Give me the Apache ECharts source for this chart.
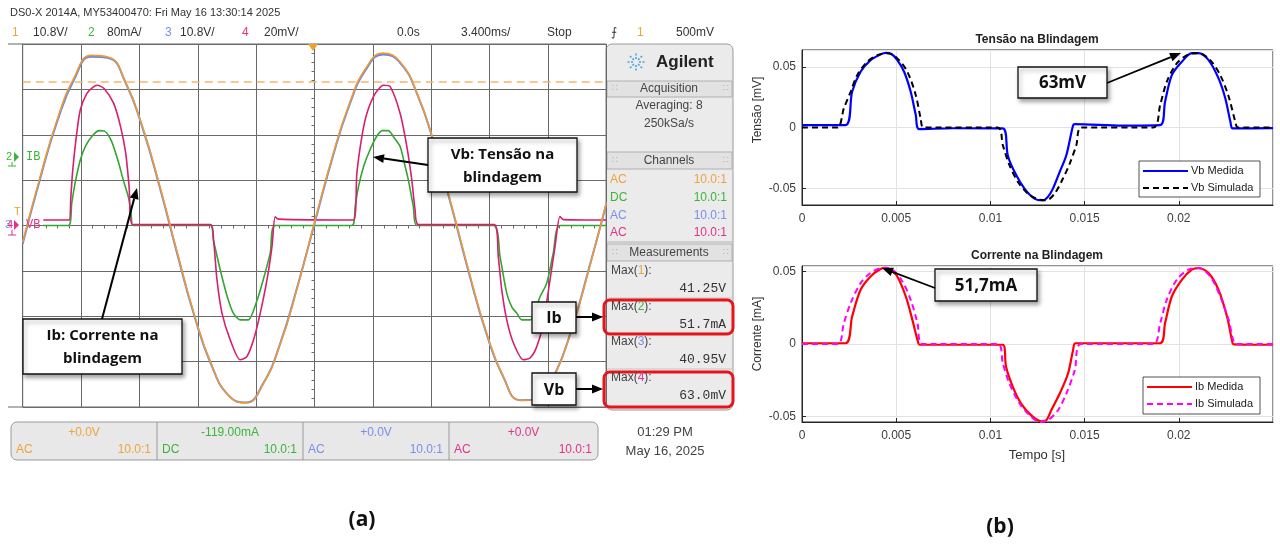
<!DOCTYPE html>
<html><head><meta charset="utf-8">
<script src="https://cdn.jsdelivr.net/npm/echarts@6/dist/echarts.min.js"></script>
<style>html,body{margin:0;padding:0;background:#fff}#c{width:1280px;height:547px}</style>
</head><body><div id="c"></div>
<script>
// ---------- (a) oscilloscope traces, time in ms, amplitude in screen divisions ----------
const scopeTimeMs = [-17,-16,-15,-14,-13,-12,-11,-10,-9,-8,-7,-6,-5,-4,-3,-2,-1,0,1,2,3,4,5,6,7,8,9,10,11,12,13,14,15,16,17];
const ch1Div = [-0.37,1.05,2.32,3.26,3.75,3.71,3.15,2.15,0.85,-0.59,-1.97,-3.07,-3.75,-3.91,-3.50,-2.62,-1.37,0.07,1.46,2.65,3.47,3.80,3.60,2.89,1.78,0.42,-1.02,-2.34,-3.33,-3.85,-3.84,-3.29,-2.28,-0.95,0.50];
const ch3Div = [-0.40,1.01,2.28,3.22,3.72,3.69,3.14,2.13,0.82,-0.62,-1.99,-3.08,-3.75,-3.90,-3.49,-2.60,-1.35,0.04,1.43,2.62,3.44,3.77,3.58,2.88,1.76,0.39,-1.05,-2.36,-3.34,-3.85,-3.83,-3.28,-2.26,-0.93,0.47];
const ibScope = [[-15.8,0],[-14.34,0],[-14.14,0.5],[-13.94,0.95],[-13.64,1.45],[-13.34,1.75],[-12.94,1.98],[-12.54,2.09],[-12.24,2.08],[-11.84,1.87],[-11.44,1.42],[-11.14,1.0],[-10.84,0.62],[-10.69,0.3],[-10.56,0],
  [-6.07,0],[-5.89,-0.32],[-5.49,-0.98],[-5.08,-1.57],[-4.73,-1.93],[-4.33,-2.08],[-3.86,-2.08],[-3.34,-1.64],[-2.99,-1.2],[-2.58,-0.61],[-2.29,0],
  [2.18,0],[2.38,0.45],[2.56,0.85],[2.86,1.3],[3.18,1.62],[3.6,1.95],[3.95,2.09],[4.3,2.09],[4.65,1.93],[4.99,1.74],[5.25,1.35],[5.47,1.0],[5.76,0.41],[5.96,0],
  [10.42,0],[10.81,-0.69],[11.2,-1.49],[11.5,-1.8],[11.78,-1.93],[12.07,-2.08],[12.56,-2.08],[13.14,-1.57],[13.53,-1.27],[13.91,-0.61],[14.3,0],[17,0]];
const vbScope = [[-15.8,0.12],[-14.3,0.12],[-14.2,0.6],[-14.1,1.15],[-13.9,1.88],[-13.65,2.54],[-13.26,2.91],[-12.9,3.05],[-12.65,3.09],[-12.26,3.02],[-11.7,2.69],[-11.3,2.18],[-11.0,1.6],[-10.8,0.85],[-10.6,0.02],
  [-6.05,0.02],[-5.88,-0.32],[-5.68,-1.2],[-5.39,-1.93],[-4.91,-2.52],[-4.33,-2.96],[-3.94,-2.89],[-3.55,-2.52],[-3.16,-1.93],[-2.77,-1.2],[-2.48,-0.47],[-2.29,0.19],[-2.1,0.14],
  [2.27,0.12],[2.47,1.16],[2.76,1.96],[3.05,2.47],[3.54,2.91],[4.02,3.09],[4.41,3.06],[4.99,2.47],[5.38,1.74],[5.67,1.0],[5.86,0.34],[6.05,0.02],
  [10.48,0.02],[10.71,-0.69],[10.91,-1.42],[11.2,-2.08],[11.59,-2.59],[12.17,-2.96],[12.56,-2.92],[12.95,-2.67],[13.33,-2.15],[13.72,-1.2],[14.01,-0.47],[14.3,0.2],[14.5,0.13],[17,0.12]];
const triggerLevelDiv = 3.17;

// ---------- (b) simulation vs measurement, time in s ----------
const vbMedida = [[0,0.0019],[0.0023,0.0019],[0.00266,0.0294],[0.00311,0.0459],[0.00364,0.0555],[0.00417,0.0602],[0.00445,0.0614],[0.00475,0.0605],[0.00506,0.0555],[0.00542,0.0459],[0.00577,0.0294],[0.00604,0.0102],[0.00622,-0.0014],[0.008,-0.0006],[0.01066,-0.0008],[0.01092,-0.0228],[0.01128,-0.0365],[0.01181,-0.0503],[0.01234,-0.0585],[0.01279,-0.0599],[0.01305,-0.0571],[0.01332,-0.0503],[0.01368,-0.0365],[0.01403,-0.0228],[0.01439,0.0019],[0.01448,0.0027],[0.017,0.0015],[0.01901,0.0019],[0.01927,0.0212],[0.01963,0.0431],[0.02016,0.0541],[0.02069,0.0612],[0.02105,0.0612],[0.02158,0.0555],[0.02211,0.0404],[0.02247,0.0239],[0.02274,0.0047],[0.02286,-0.0008],[0.025,-0.0005]];
const vbSimulada = [[0,0],[0.00186,0],[0.00222,0.0157],[0.00258,0.0294],[0.00293,0.0431],[0.00346,0.0541],[0.004,0.0596],[0.00453,0.0612],[0.00506,0.0569],[0.00559,0.0459],[0.00604,0.0266],[0.0063,0.0074],[0.00645,0],[0.01039,0],[0.01066,-0.0146],[0.01101,-0.031],[0.01146,-0.0448],[0.01199,-0.0544],[0.01252,-0.0591],[0.01297,-0.0599],[0.01341,-0.0544],[0.01385,-0.042],[0.01421,-0.0297],[0.01456,-0.0146],[0.01483,0],[0.01865,0],[0.01901,0.0184],[0.01936,0.0376],[0.01989,0.0528],[0.02051,0.0602],[0.02105,0.0612],[0.02167,0.0555],[0.0222,0.0431],[0.02265,0.0253],[0.023,0.0047],[0.02314,0],[0.025,0]];
const ibMedida = [[0,0.0005],[0.00231,0.0005],[0.00266,0.0189],[0.00311,0.0373],[0.00364,0.0465],[0.00417,0.0516],[0.00445,0.0525],[0.00475,0.0505],[0.00506,0.0465],[0.00551,0.0327],[0.00586,0.0166],[0.00613,0.0028],[0.00625,-0.0005],[0.01066,-0.0005],[0.01083,-0.0157],[0.01119,-0.0295],[0.01163,-0.041],[0.01217,-0.0491],[0.0127,-0.0532],[0.01297,-0.0525],[0.01323,-0.0456],[0.01368,-0.0341],[0.01412,-0.0203],[0.01439,-0.0041],[0.01451,0.0005],[0.019,0.0005],[0.01927,0.0143],[0.01963,0.0327],[0.02016,0.0442],[0.02069,0.0512],[0.02105,0.0523],[0.02158,0.0489],[0.02211,0.0373],[0.02256,0.0189],[0.02282,0.0028],[0.02291,-0.0002],[0.025,-0.0005]];
const ibSimulada = [[0,0],[0.0019,0],[0.00222,0.0143],[0.00258,0.0281],[0.00311,0.0419],[0.00364,0.0489],[0.00426,0.0523],[0.0048,0.0512],[0.00533,0.0431],[0.00577,0.0304],[0.00613,0.0143],[0.00639,0],[0.01039,0],[0.01066,-0.0134],[0.01101,-0.0272],[0.01155,-0.041],[0.01208,-0.0491],[0.01261,-0.0537],[0.01305,-0.0525],[0.01359,-0.0456],[0.01403,-0.0341],[0.01448,-0.018],[0.0148,0],[0.01865,0],[0.01901,0.0143],[0.01936,0.0304],[0.01989,0.0442],[0.02051,0.0512],[0.02105,0.0523],[0.02167,0.0465],[0.0222,0.0327],[0.02265,0.0166],[0.02309,0],[0.025,0]];

// ---------- texts ----------
const scopeHeader = 'DS0-X 2014A, MY53400470: Fri May 16 13:30:14 2025';
const measLabels = ['1','2','3','4'];
const measValues = ['41.25V','51.7mA','40.95V','63.0mV'];
const chColors = ['#eea33d','#3cb43c','#7b8ef0','#e0338a'];
const offsets = ['+0.0V','-119.00mA','+0.0V','+0.0V'];
const couplings = ['AC','DC','AC','AC'];

const SANS = '"Liberation Sans", Arial, sans-serif';
const OPEN = '"Open Sans", "Liberation Sans", sans-serif';
const MONO = '"Liberation Mono", "DejaVu Sans Mono", monospace';

function txt(x, y, text, o) {
  o = o || {};
  return {type:'text', x:x, y:y, z:o.z||50, rotation:o.rot||0,
    style:{text:text, fill:o.color||'#333', font:(o.weight||'normal')+' '+(o.size||12)+'px '+(o.family||SANS),
      align:o.align||'left', verticalAlign:'middle', textAlign:o.align||'left', textVerticalAlign:'middle',
      lineHeight:o.lh, rich:o.rich}};
}
function arrow(x1,y1,x2,y2,w){
  const a=Math.atan2(y2-y1,x2-x1), L=11, H=4.5;
  const bx=x2-L*Math.cos(a), by=y2-L*Math.sin(a);
  return [{type:'line', z:60, shape:{x1:x1,y1:y1,x2:bx,y2:by}, style:{stroke:'#000', lineWidth:w||2}},
    {type:'polygon', z:60, shape:{points:[[x2,y2],[bx+H*Math.sin(a),by-H*Math.cos(a)],[bx-H*Math.sin(a),by+H*Math.cos(a)]]}, style:{fill:'#000'}}];
}
function callout(x,y,w,h,text,size,lh){
  return [{type:'rect', z:55, shape:{x:x,y:y,width:w,height:h}, style:{fill:'#fff', stroke:'#111', lineWidth:1.3, shadowBlur:4, shadowOffsetX:2, shadowOffsetY:3, shadowColor:'rgba(0,0,0,0.35)'}},
    txt(x+w/2, y+h/2+1, text, {weight:'bold', size:size, family:OPEN, align:'center', color:'#111', lh:lh, z:56})];
}

const G = [];
// header of scope
G.push(txt(10,13,scopeHeader,{size:11,color:'#333'}));
const hdr = [[12,'1',0],[33,'10.8V/',-1],[88,'2',1],[107,'80mA/',-1],[165,'3',2],[180,'10.8V/',-1],[242,'4',3],[264,'20mV/',-1],
  [397,'0.0s',-1],[461,'3.400ms/',-1],[547,'Stop',-1],[611,'⨍',-1],[637,'1',0],[676,'500mV',-1]];
hdr.forEach(h=>G.push(txt(h[0],33,h[1],{size:12,color:h[2]>=0?chColors[h[2]]:'#333'})));
// scope frame extensions & trigger marker
G.push({type:'line',shape:{x1:8,y1:44,x2:23,y2:44},style:{stroke:'#666',lineWidth:1}});
G.push({type:'line',shape:{x1:8,y1:407,x2:23,y2:407},style:{stroke:'#666',lineWidth:1}});
G.push({type:'polygon',z:40,shape:{points:[[308,44],[318,44],[313,51]]},style:{fill:'#f0a030'}});
// channel markers
G.push(txt(6,157,'2',{color:'#3cb43c',size:11}));
G.push({type:'polygon',shape:{points:[[14,152],[19,157],[14,162]]},style:{fill:'#3cb43c'}});
G.push(txt(26,157,'IB',{color:'#3cb43c',size:12,family:MONO}));
G.push({type:'line',shape:{x1:12,y1:162,x2:12,y2:166},style:{stroke:'#3cb43c'}});
G.push({type:'line',shape:{x1:8,y1:166,x2:16,y2:166},style:{stroke:'#3cb43c'}});
G.push(txt(14,212,'T',{color:'#f0a030',size:11}));
G.push(txt(5,225,'3',{color:'#7b8ef0',size:11}));
G.push(txt(7,225,'4',{color:'#e0338a',size:11}));
G.push({type:'polygon',shape:{points:[[14,220],[19,225],[14,230]]},style:{fill:'#e0338a'}});
G.push(txt(26,225,'VB',{color:'#e0338a',size:12,family:MONO}));
G.push({type:'line',shape:{x1:12,y1:230,x2:12,y2:235},style:{stroke:'#e0338a'}});
G.push({type:'line',shape:{x1:8,y1:235,x2:16,y2:235},style:{stroke:'#e0338a'}});

// right panel
G.push({type:'rect',shape:{x:606,y:44,width:127,height:366,r:6},style:{fill:'#ebebeb',stroke:'#9a9a9a',lineWidth:1}});
// Agilent logo
for(let k=0;k<8;k++){const a=k*Math.PI/4; G.push({type:'line',shape:{x1:636+3*Math.cos(a),y1:62+3*Math.sin(a),x2:636+10*Math.cos(a),y2:62+10*Math.sin(a)},style:{stroke:'#4aa8d8',lineWidth:1.6,lineDash:[2,1.5]}});}
G.push(txt(656,62,'Agilent',{weight:'bold',size:17,color:'#222'}));
function header(y0,y1,label){
  G.push({type:'rect',shape:{x:607,y:y0,width:125,height:y1-y0},style:{fill:'#e2e2e2',stroke:'#b0b0b0',lineWidth:1}});
  G.push(txt(669,(y0+y1)/2,label,{align:'center',color:'#444'}));
  G.push(txt(612,(y0+y1)/2,'∷',{color:'#aaa',size:9}));
  G.push(txt(723,(y0+y1)/2,'∷',{color:'#aaa',size:9}));
}
header(81,97,'Acquisition');
G.push(txt(669,106,'Averaging: 8',{align:'center',color:'#444'}));
G.push(txt(669,124,'250kSa/s',{align:'center',color:'#444'}));
header(152,169,'Channels');
[180,198,216,233].forEach((y,i)=>{
  G.push(txt(610,y,couplings[i]==='DC'?'DC':'AC',{color:chColors[i]}));
  G.push(txt(727,y,'10.0:1',{color:chColors[i],align:'right'}));
});
G.push({type:'line',shape:{x1:607,y1:242,x2:732,y2:242},style:{stroke:'#b0b0b0'}});
header(244,261,'Measurements');
const mY = [271,307,342,378];
measLabels.forEach((m,i)=>{
  G.push(txt(611,mY[i],'Max({c|'+m+'}):',{color:'#444',rich:{c:{fill:chColors[i],font:'12px '+SANS}}}));
  G.push(txt(726,mY[i]+18,measValues[i],{color:'#333',size:13,family:MONO,align:'right'}));
  if(i>0) G.push({type:'line',shape:{x1:607,y1:mY[i]-9,x2:732,y2:mY[i]-9},style:{stroke:'#c4c4c4'}});
});
// red highlight boxes
G.push({type:'rect',z:45,shape:{x:604,y:300,width:129,height:34,r:6},style:{fill:'none',stroke:'#e8141c',lineWidth:3}});
G.push({type:'rect',z:45,shape:{x:604,y:372,width:129,height:35,r:6},style:{fill:'none',stroke:'#e8141c',lineWidth:3}});

// bottom bar
G.push({type:'rect',shape:{x:11,y:422,width:587,height:38,r:6},style:{fill:'#e8e8e8',stroke:'#9a9a9a',lineWidth:1}});
const cellX=[11,157,303,449,598];
for(let i=0;i<4;i++){
  if(i>0) G.push({type:'line',shape:{x1:cellX[i],y1:422,x2:cellX[i],y2:460},style:{stroke:'#9a9a9a'}});
  const cx=(cellX[i]+cellX[i+1])/2;
  G.push(txt(cx,433,offsets[i],{color:chColors[i],align:'center'}));
  G.push(txt(cellX[i]+5,450,couplings[i],{color:chColors[i]}));
  G.push(txt(cellX[i+1]-6,450,'10.0:1',{color:chColors[i],align:'right'}));
}
G.push(txt(665,432,'01:29 PM',{align:'center',color:'#444',size:13}));
G.push(txt(665,451,'May 16, 2025',{align:'center',color:'#444',size:13}));

// callouts (a)
callout(428,138,149,54,'Vb: Tensão na\nblindagem',15,23).forEach(e=>G.push(e));
arrow(428,165,373,157,2).forEach(e=>G.push(e));
callout(23,319,159,55,'Ib: Corrente na\nblindagem',15,23).forEach(e=>G.push(e));
arrow(102,319,137,188,2).forEach(e=>G.push(e));
callout(532,302,44,31,'Ib',16).forEach(e=>G.push(e));
arrow(576,317,603,317,2).forEach(e=>G.push(e));
callout(532,373,44,32,'Vb',16).forEach(e=>G.push(e));
arrow(576,389,603,389,2).forEach(e=>G.push(e));

// (b) decorations
G.push(txt(1037,40,'Tensão na Blindagem',{weight:'bold',size:12,color:'#222',align:'center'}));
G.push(txt(1037,256,'Corrente na Blindagem',{weight:'bold',size:12,color:'#222',align:'center'}));
G.push(txt(1037,455,'Tempo [s]',{size:13,color:'#333',align:'center'}));
G.push(txt(758,110,'Tensão [mV]',{size:12,color:'#333',align:'center',rot:Math.PI/2}));
G.push(txt(758,334,'Corrente [mA]',{size:12,color:'#333',align:'center',rot:Math.PI/2}));
function legend(x,y,w,h,items){
  G.push({type:'rect',z:50,shape:{x:x,y:y,width:w,height:h},style:{fill:'#fff',stroke:'#262626',lineWidth:0.8}});
  items.forEach((it,i)=>{
    const yy=y+10+i*17;
    G.push({type:'line',z:51,shape:{x1:x+4,y1:yy,x2:x+49,y2:yy},style:{stroke:it[1],lineWidth:2,lineDash:it[2]?[6,4]:null}});
    G.push(txt(x+52,yy,it[0],{size:11,color:'#222',z:51}));
  });
}
legend(1139,161,121,36,[['Vb Medida','#0000ff',false],['Vb Simulada','#000000',true]]);
legend(1143,377,117,37,[['Ib Medida','#ff0000',false],['Ib Simulada','#ff00ff',true]]);
callout(1018,67,89,31,'63mV',17).forEach(e=>G.push(e));
arrow(1107,83,1181,53,1.8).forEach(e=>G.push(e));
callout(935,269,102,32,'51,7mA',17).forEach(e=>G.push(e));
arrow(935,288,882,268,1.8).forEach(e=>G.push(e));

G.push(txt(362,520,'(a)',{weight:'bold',size:21,color:'#111',align:'center',family:OPEN}));
G.push(txt(1000,527,'(b)',{weight:'bold',size:21,color:'#111',align:'center',family:OPEN}));

// ---------- axes ----------
const gridLine = '#6a6a6a';
function numFmt(v){ if(Math.abs(v)<1e-12) return '0'; return String(parseFloat(v.toFixed(4))); }
const matX = (gi)=>({gridIndex:gi, type:'value', min:0, max:0.025, interval:0.005,
  axisLine:{show:true,onZero:false,lineStyle:{color:'#262626',width:1}}, axisTick:{show:true,inside:true,length:4,lineStyle:{color:'#262626'}},
  axisLabel:{color:'#3d3d3d',fontSize:12,fontFamily:SANS,margin:8,showMaxLabel:false,formatter:numFmt},
  splitLine:{show:true,lineStyle:{color:'#e2e2e2',width:1}}});
const matY = (gi,lim)=>({gridIndex:gi, type:'value', min:-lim, max:lim, splitNumber:2,
  axisLine:{show:true,onZero:false,lineStyle:{color:'#262626',width:1}}, axisTick:{show:true,inside:true,length:4,lineStyle:{color:'#262626'}},
  axisLabel:{color:'#3d3d3d',fontSize:12,fontFamily:SANS,margin:6,showMinLabel:false,showMaxLabel:false,formatter:numFmt},
  splitLine:{show:true,lineStyle:{color:'#e2e2e2',width:1}}});

const option = {
  animation:false, backgroundColor:'#fff',
  grid:[
    {left:22.7, top:44, width:583.6, height:363, show:true, borderColor:gridLine, borderWidth:1, backgroundColor:'#fff'},
    {left:802, top:50, width:471, height:155, show:true, borderColor:'#262626', borderWidth:1},
    {left:802, top:266, width:471, height:156, show:true, borderColor:'#262626', borderWidth:1}
  ],
  xAxis:[
    {gridIndex:0, type:'value', min:-17, max:17, interval:3.4,
      axisLine:{show:true,onZero:true,lineStyle:{color:gridLine}}, axisTick:{show:true,length:4,lineStyle:{color:gridLine}},
      minorTick:{show:true,splitNumber:5,length:3,lineStyle:{color:gridLine}},
      axisLabel:{show:false}, splitLine:{show:true,lineStyle:{color:gridLine,width:1}}},
    matX(1), matX(2)
  ],
  yAxis:[
    {gridIndex:0, type:'value', min:-4, max:4, interval:1,
      axisLine:{show:true,onZero:true,lineStyle:{color:gridLine}}, axisTick:{show:true,length:4,lineStyle:{color:gridLine}},
      minorTick:{show:true,splitNumber:5,length:3,lineStyle:{color:gridLine}},
      axisLabel:{show:false}, splitLine:{show:true,lineStyle:{color:gridLine,width:1}}},
    matY(1,0.0638), matY(2,0.0537)
  ],
  series:[
    {type:'line', xAxisIndex:0, yAxisIndex:0, data:ibScope, showSymbol:false, smooth:0.25, lineStyle:{color:'#30a830',width:1.6}, z:3},
    {type:'line', xAxisIndex:0, yAxisIndex:0, data:vbScope, showSymbol:false, smooth:0.25, lineStyle:{color:'#d81e6e',width:1.6}, z:3},
    {type:'line', xAxisIndex:0, yAxisIndex:0, data:scopeTimeMs.map((t,i)=>[t,ch3Div[i]]), showSymbol:false, smooth:0.5, lineStyle:{color:'#6b86e6',width:2}, z:4},
    {type:'line', xAxisIndex:0, yAxisIndex:0, data:scopeTimeMs.map((t,i)=>[t,ch1Div[i]]), showSymbol:false, smooth:0.5, lineStyle:{color:'#eb9a35',width:1.6}, z:5,
      markLine:{silent:true,symbol:'none',label:{show:false},lineStyle:{type:[8,5],color:'#f7b46b',width:1.5},data:[{yAxis:triggerLevelDiv}]}},
    {type:'line', xAxisIndex:1, yAxisIndex:1, data:vbMedida, showSymbol:false, smooth:0.3, lineStyle:{color:'#0000ff',width:2.2}, z:3},
    {type:'line', xAxisIndex:1, yAxisIndex:1, data:vbSimulada, showSymbol:false, smooth:0.3, lineStyle:{color:'#000000',width:2,type:[6,4]}, z:4},
    {type:'line', xAxisIndex:2, yAxisIndex:2, data:ibMedida, showSymbol:false, smooth:0.3, lineStyle:{color:'#ff0000',width:2.2}, z:3},
    {type:'line', xAxisIndex:2, yAxisIndex:2, data:ibSimulada, showSymbol:false, smooth:0.3, lineStyle:{color:'#ff00ff',width:2,type:[6,4]}, z:4}
  ],
  graphic:{elements:G}
};
const chart = echarts.init(document.getElementById('c'), null, {renderer:'canvas'});
chart.setOption(option);
</script></body></html>
